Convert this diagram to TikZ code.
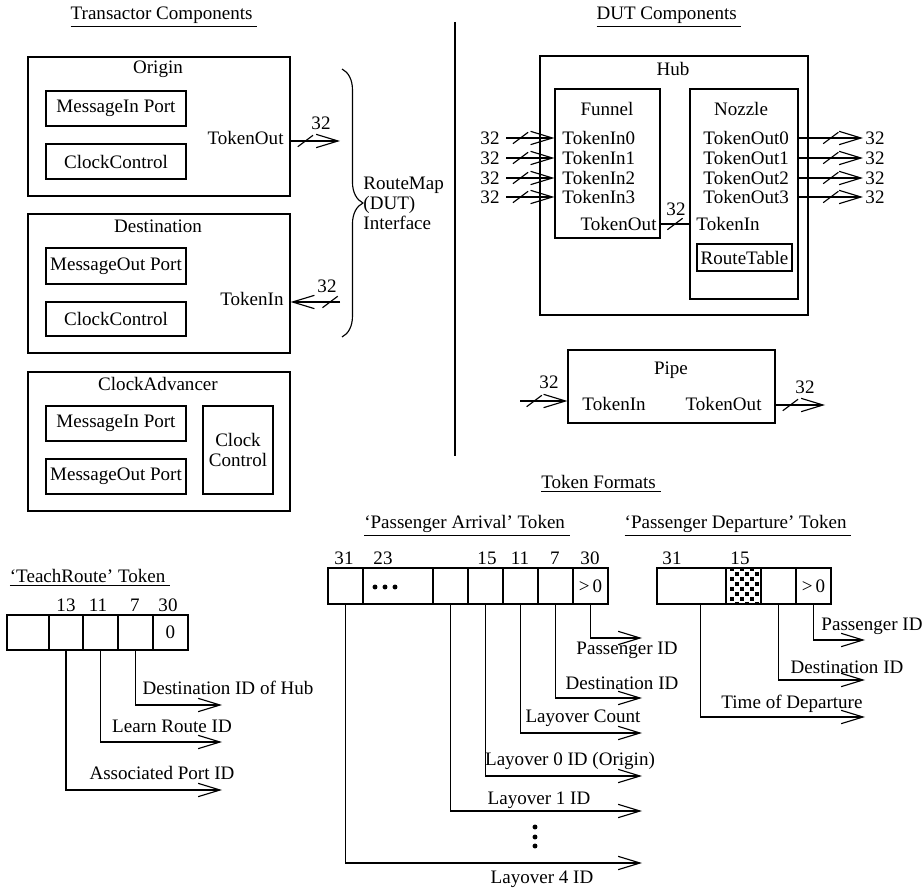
\documentclass[tikz,border=0pt]{standalone}
\usepackage{fontspec}
\setmainfont{Liberation Serif}
\usetikzlibrary{arrows.meta,decorations.markings,decorations.pathreplacing}
\newcommand{\upx}{0.525pt}
\tikzset{
  box/.style 2 args={draw, inner sep=0pt, minimum width=#1*\upx, minimum height=#2*\upx},
  tip/.style={-{Straight Barb[length=11.5pt,width=7pt]}},
  bus/.style={postaction={decorate}, decoration={markings, mark=at position #1 with {\draw[-] (-4pt,-3pt) -- (4pt,3pt);}}},
  tight/.style={align=center, font=\fontsize{10}{10.5}\selectfont},
}
\begin{document}
\begin{tikzpicture}[x=\upx, y=-\upx, line width=0.6pt, inner sep=1pt]
\useasboundingbox (0,0) rectangle (923,888);

\node (trtitle) at (164,17) {\underline{Transactor Components\ }};
\node (duttitle) at (669,17) {\underline{DUT Components\ }};
\draw (455,22) -- (455,456);

\node[box={262}{139}] (origin) at (159,126.5) {};
\node (originname) at (158,69) {Origin};
\node[box={140}{35}] (originin) at (116,108.5) {MessageIn Port};
\node[box={140}{35}] (originclk) at (116,161.5) {ClockControl};
\node[anchor=east] (originout) at (286,138) {TokenOut};
\coordinate (origintip) at (340,141);
\draw[tip, bus=0.3] (origin.east |- origintip) -- (origintip);
\node (originw) at (321,123) {32};

\node[box={262}{139}] (dest) at (159,283.5) {};
\node (destname) at (158,226) {Destination};
\node[box={140}{36}] (destout) at (116,266) {MessageOut Port};
\node[box={140}{34}] (destclk) at (116,319) {ClockControl};
\node[anchor=east] (destin) at (286,299) {TokenIn};
\coordinate (desttail) at (340,302);
\draw[tip, bus=0.2] (desttail) -- (dest.east |- desttail);
\node (destw) at (327,286) {32};

\coordinate (bracetop) at (342,69);
\coordinate (bracebot) at (342,337);
\draw[decorate, decoration={brace, amplitude=11pt}] (bracetop) -- (bracebot);
\node[tight, align=left, anchor=west] (routemap) at (361,203) {RouteMap\\(DUT)\\Interface};

\node[box={262}{139}] (adv) at (159,441.5) {};
\node (advname) at (158,384) {ClockAdvancer};
\node[box={140}{35}] (advin) at (116,423.5) {MessageIn Port};
\node[box={140}{35}] (advout) at (116,476.5) {MessageOut Port};
\node[box={70}{88}, tight] (advclk) at (238,450) {Clock\\Control};

\node[box={268}{259}] (hub) at (674,185.5) {};
\node (hubname) at (673,69) {Hub};
\node[box={105}{149}] (funnel) at (607.5,163.5) {};
\node (funnelname) at (607,109) {Funnel};
\node[box={108}{210}] (nozzle) at (744,194) {};
\node (nozzlename) at (741,109) {Nozzle};
\foreach \i/\y in {0/138,1/158,2/178,3/197} {
  \node[anchor=west] (tokin\i) at (560,\y) {TokenIn\i};
  \coordinate (hubin\i) at (506,\y);
  \draw[tip, bus=0.3] (hubin\i) -- (funnel.west |- hubin\i);
  \node[anchor=east] (hubinw\i) at (502,\y) {32};
  \node[anchor=west] (tokout\i) at (701,\y) {TokenOut\i};
  \coordinate (hubout\i) at (863,\y);
  \draw[tip, bus=0.5] (nozzle.east |- hubout\i) -- (hubout\i);
  \node[anchor=west] (huboutw\i) at (863,\y) {32};
}
\node[anchor=east] (funnelout) at (659,224) {TokenOut};
\node[anchor=west] (nozzlein) at (694,224) {TokenIn};
\draw[bus=0.5] (funnel.east |- funnelout) -- (nozzle.west |- funnelout);
\node (linkw) at (676,209) {32};
\node[box={95}{27}] (routetable) at (744.5,257.5) {RouteTable};

\node[box={207}{73}] (pipe) at (671.5,386.5) {};
\node (pipename) at (671,370) {Pipe};
\node[anchor=west] (pipein) at (580,404) {TokenIn};
\node[anchor=east] (pipeout) at (764,404) {TokenOut};
\coordinate (pipetail) at (520,401);
\coordinate (pipetip) at (825,405);
\draw[tip, bus=0.3] (pipetail) -- (pipe.west |- pipetail);
\draw[tip, bus=0.3] (pipe.east |- pipetip) -- (pipetip);
\node (pipeinw) at (549,382) {32};
\node (pipeoutw) at (805,387) {32};

\node (fmttitle) at (601,484) {\underline{Token Formats\ }};

\node (arrtitle) at (467,526) {\underline{`Passenger Arrival' Token\ }};
\foreach \n/\x/\w in {1/345.5/35, 2/398/70, 3/450.5/35, 4/485.5/35, 5/520.5/35, 6/555.5/35, 7/590.5/35}
  \node[box={\w}{36}] (arr\n) at (\x,586) {};
\node (arrval) at (arr7) {>\,0};
\foreach \x in {375,385,395} \fill (\x,587) circle (1.3pt);
\foreach \n/\x/\b in {1/344/31, 2/383/23, 4/487/15, 5/520/11, 6/555/7, 7/590/30}
  \node[anchor=south] (arrbit\n) at (\x,567) {\b};
\foreach \n/\y in {7/638, 6/698, 5/733, 4/776, 3/811, 1/863} {
  \coordinate (arrend\n) at (642,\y);
  \draw[tip] (arr\n.south) |- (arrend\n);
}
\node (arrpass) at (627,650) {Passenger ID};
\node (arrdest) at (622,683) {Destination ID};
\node (arrcount) at (583,718) {Layover Count};
\node (arrlay0) at (570,761) {Layover 0 ID (Origin)};
\node (arrlay1) at (539,800) {Layover 1 ID};
\node (arrlay4) at (542,879) {Layover 4 ID};
\foreach \y in {827,837,846} \fill (535,\y) circle (1.3pt);

\node (deptitle) at (738,526) {\underline{`Passenger Departure' Token\ }};
\foreach \n/\x/\w in {1/691.5/69, 2/743.5/35, 3/778.5/35, 4/813.5/35}
  \node[box={\w}{36}] (dep\n) at (\x,586) {};
\begin{scope}
\clip (dep2.south west) rectangle (dep2.north east);
\foreach \r in {0,...,7} \foreach \c in {0,...,3}
  \fill ({730.3+10*\c+5*mod(\r,2)},{567.3+5*\r}) rectangle +(3.4,3.4);
\end{scope}
\node (depval) at (dep4) {>\,0};
\node[anchor=south] (depbit1) at (672,567) {31};
\node[anchor=south] (depbit2) at (740,567) {15};
\coordinate (depend4) at (865,640);
\coordinate (depend3) at (865,680);
\coordinate (depend1) at (865,717);
\draw[tip] (dep4.south) |- (depend4);
\draw[tip] (dep3.south) |- (depend3);
\draw[tip] ([xshift=4.5pt]dep1.south) |- (depend1);
\node (deppass) at (872,626) {Passenger ID};
\node (depdest) at (847,667) {Destination ID};
\node (deptime) at (792,704) {Time of Departure};

\node (teachtitle) at (90,578) {\underline{`TeachRoute' Token\ }};
\foreach \n/\x/\w in {1/28/42, 2/66/34, 3/100.5/35, 4/135.5/35, 5/170.5/35}
  \node[box={\w}{35}] (teach\n) at (\x,632.5) {};
\node (teachval) at (teach5) {0};
\foreach \n/\x/\b in {2/66/13, 3/98/11, 4/135/7, 5/168/30}
  \node[anchor=south] (teachbit\n) at (\x,614) {\b};
\foreach \n/\y in {4/705, 3/742, 2/790} {
  \coordinate (teachend\n) at (222,\y);
  \draw[tip] (teach\n.south) |- (teachend\n);
}
\node (teachdest) at (228,688) {Destination ID of Hub};
\node (teachlearn) at (172,726) {Learn Route ID};
\node (teachport) at (162,773) {Associated Port ID};
\end{tikzpicture}
\end{document}
